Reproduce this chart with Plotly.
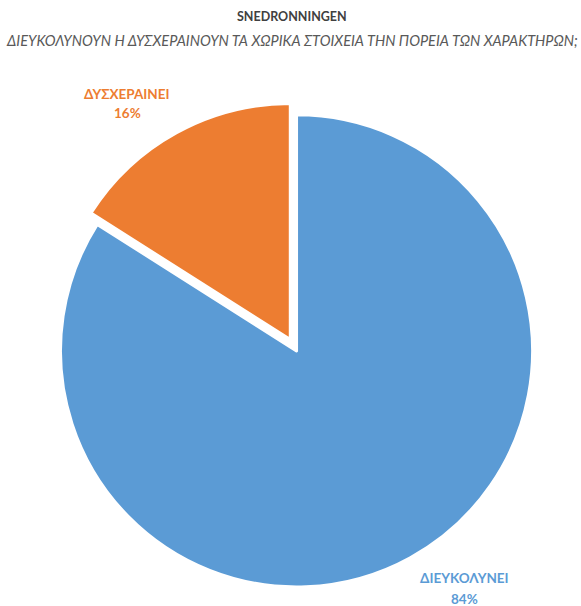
import plotly.graph_objects as go

# Survey answers and their shares
categories = ["ΔΙΕΥΚΟΛΥΝΕΙ", "ΔΥΣΧΕΡΑΙΝΕΙ"]
shares = [84, 16]
slice_colors = ["#5B9BD5", "#ED7D31"]
pulls = [0, 0.055]

title_text = "SNEDRONNINGEN"
subtitle_text = "ΔΙΕΥΚΟΛΥΝΟΥΝ Ή ΔΥΣΧΕΡΑΙΝΟΥΝ ΤΑ ΧΩΡΙΚΑ ΣΤΟΙΧΕΙΑ ΤΗΝ ΠΟΡΕΙΑ ΤΩΝ ΧΑΡΑΚΤΗΡΩΝ;"

W, H = 581, 606
FONT = "Lato, 'Open Sans', sans-serif"

fig = go.Figure(
    go.Pie(
        labels=categories,
        values=shares,
        sort=False,
        direction="clockwise",
        rotation=0,
        pull=pulls,
        marker=dict(colors=slice_colors, line=dict(color="white", width=3)),
        textinfo="none",
        hoverinfo="label+percent",
        domain=dict(x=[0.0818, 0.939], y=[0.0099, 0.832]),
        showlegend=False,
    )
)

# Category labels with their percentages, placed outside the slices
# (x centre, y of name line, y of percent line) in pixels from the top-left
label_pos = {"ΔΙΕΥΚΟΛΥΝΕΙ": (464, 578, 599), "ΔΥΣΧΕΡΑΙΝΕΙ": (127, 94, 113)}
for cat, val, col in zip(categories, shares, slice_colors):
    px, py_name, py_pct = label_pos[cat]
    for txt, py in ((cat, py_name), (f"{val}%", py_pct)):
        fig.add_annotation(
            x=px / W, y=1 - py / H, xref="paper", yref="paper",
            text=f"<b>{txt}</b>", showarrow=False,
            font=dict(family=FONT, size=13.5, color=col),
            align="center", xanchor="center", yanchor="middle",
        )

fig.add_annotation(
    x=292 / W, y=1 - 17 / H, xref="paper", yref="paper",
    text=f"<b>{title_text}</b>", showarrow=False,
    font=dict(family=FONT, size=12.5, color="#404040"),
    xanchor="center", yanchor="middle",
)
fig.add_annotation(
    x=292.5 / W, y=1 - 41 / H, xref="paper", yref="paper",
    text=f"<i>{subtitle_text}</i>", showarrow=False,
    font=dict(family=FONT, size=14.5, color="#595959"),
    xanchor="center", yanchor="middle",
)

fig.update_layout(
    width=W, height=H,
    margin=dict(l=0, r=0, t=0, b=0),
    paper_bgcolor="white",
    plot_bgcolor="white",
)

fig.write_html("out.html")
